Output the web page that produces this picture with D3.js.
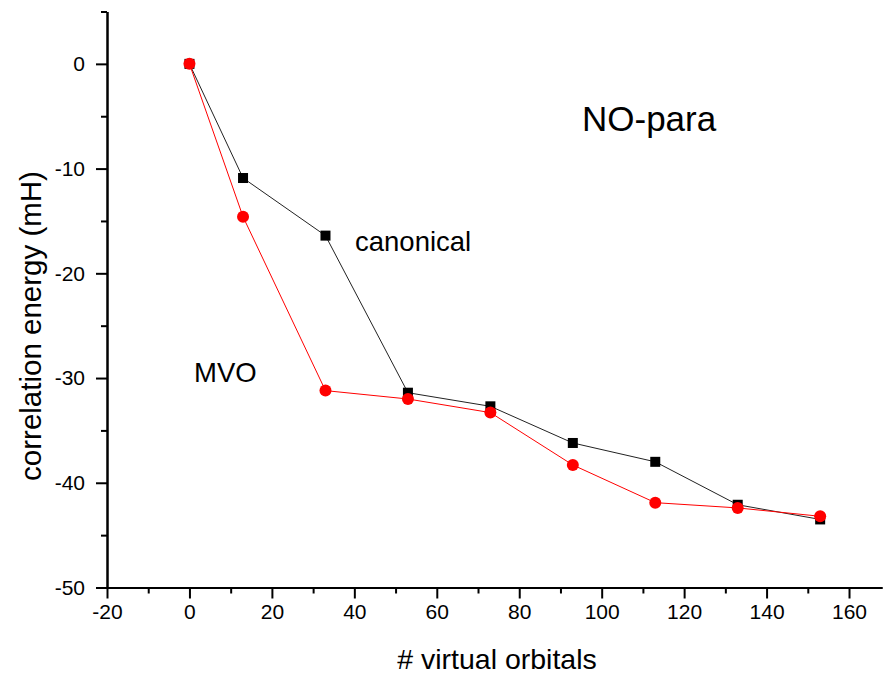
<!DOCTYPE html>
<html>
<head>
<meta charset="utf-8">
<script src="https://cdn.jsdelivr.net/npm/d3@7"></script>
<style>
  body { margin: 0; background: #fff; }
  svg { display: block; font-family: "Liberation Sans", Arial, sans-serif; }
</style>
</head>
<body>
<div id="chart"></div>
<script>
// number of virtual orbitals
const orbitals = [0, 13, 33, 53, 73, 93, 113, 133, 153];
// correlation energy (mH)
const canonical = [0, -10.9, -16.4, -31.4, -32.7, -36.2, -38.0, -42.1, -43.5];
const mvo = [0, -14.6, -31.2, -32.0, -33.3, -38.3, -41.9, -42.4, -43.2];

const xMajor = [-20, 0, 20, 40, 60, 80, 100, 120, 140, 160];
const xMinor = [-10, 10, 30, 50, 70, 90, 110, 130, 150];
const yMajor = [-50, -40, -30, -20, -10, 0];
const yMinor = [-45, -35, -25, -15, -5, 5];

const width = 883;
const height = 677;

const x = d3.scaleLinear().domain([-20, 168]).range([107, 882]);
const y = d3.scaleLinear().domain([-50, 5]).range([587.5, 11.5]);

const svg = d3.select('#chart')
  .append('svg')
  .attr('width', width)
  .attr('height', height);

// plain hyphen for negatives, like the original
const fmt = (d) => `${d}`;

const styleAxis = (g) => {
  g.select('.domain').attr('stroke', '#000').attr('stroke-width', 2);
  g.selectAll('.tick line').attr('stroke', '#000').attr('stroke-width', 2);
  g.selectAll('.tick text').attr('fill', '#000').attr('font-size', 21)
    .attr('font-family', '"Liberation Sans", Arial, sans-serif');
};

// minor ticks
svg.append('g')
  .attr('transform', `translate(0,${y(-50)})`)
  .call(d3.axisBottom(x).tickValues(xMinor).tickSize(6).tickSizeOuter(0).tickFormat(''))
  .call(styleAxis);
svg.append('g')
  .attr('transform', `translate(${x(-20)},0)`)
  .call(d3.axisLeft(y).tickValues(yMinor).tickSize(6).tickSizeOuter(0).tickFormat(''))
  .call(styleAxis);

// major ticks + labels
svg.append('g')
  .attr('transform', `translate(0,${y(-50)})`)
  .call(d3.axisBottom(x).tickValues(xMajor).tickSize(11).tickSizeOuter(0).tickPadding(6).tickFormat(fmt))
  .call(styleAxis);
svg.append('g')
  .attr('transform', `translate(${x(-20)},0)`)
  .call(d3.axisLeft(y).tickValues(yMajor).tickSize(11).tickSizeOuter(0).tickPadding(11).tickFormat(fmt))
  .call(styleAxis);

// axis titles
svg.append('text')
  .attr('x', 497)
  .attr('y', 669)
  .attr('text-anchor', 'middle')
  .attr('font-size', 28.5)
  .text('# virtual orbitals');

svg.append('text')
  .attr('transform', 'translate(41,326) rotate(-90)')
  .attr('text-anchor', 'middle')
  .attr('font-size', 29.5)
  .text('correlation energy (mH)');

const line = d3.line()
  .x((d) => x(d[0]))
  .y((d) => y(d[1]));

const canData = orbitals.map((o, i) => [o, canonical[i]]);
const mvoData = orbitals.map((o, i) => [o, mvo[i]]);

// canonical series
svg.append('path')
  .datum(canData)
  .attr('fill', 'none')
  .attr('stroke', '#222')
  .attr('stroke-width', 1)
  .attr('d', line);

svg.append('g')
  .selectAll('rect')
  .data(canData)
  .join('rect')
  .attr('x', (d) => x(d[0]) - 5)
  .attr('y', (d) => y(d[1]) - 5)
  .attr('width', 10)
  .attr('height', 10)
  .attr('fill', '#000');

// MVO series
svg.append('path')
  .datum(mvoData)
  .attr('fill', 'none')
  .attr('stroke', '#ff0000')
  .attr('stroke-width', 1)
  .attr('d', line);

svg.append('g')
  .selectAll('circle')
  .data(mvoData)
  .join('circle')
  .attr('cx', (d) => x(d[0]))
  .attr('cy', (d) => y(d[1]))
  .attr('r', 6)
  .attr('fill', '#ff0000');

// annotations
svg.append('text')
  .attr('x', 582)
  .attr('y', 131)
  .attr('font-size', 35)
  .text('NO-para');

svg.append('text')
  .attr('x', 355)
  .attr('y', 251)
  .attr('font-size', 27.5)
  .text('canonical');

svg.append('text')
  .attr('x', 194)
  .attr('y', 382)
  .attr('font-size', 27.5)
  .text('MVO');
</script>
</body>
</html>
